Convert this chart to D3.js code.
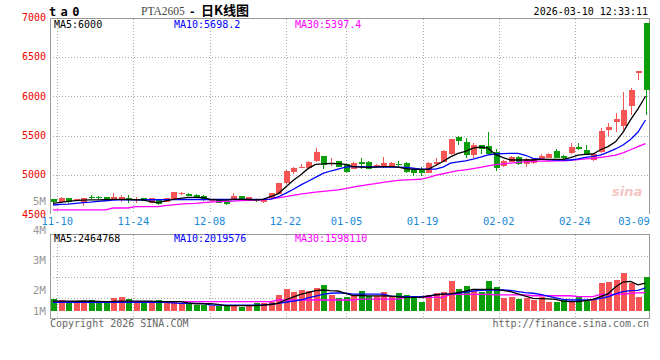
<!DOCTYPE html>
<html>
<head>
<meta charset="utf-8">
<script src="https://cdn.jsdelivr.net/npm/d3@7"></script>
<style>
  body { margin: 0; background: #fff; }
  svg { display: block; }
  text { font-family: "DejaVu Sans Mono", monospace; font-size: 10px; }
</style>
</head>
<body>
<svg id="chart" width="660" height="360"></svg>
<script>
// trading days shown on the chart
const dates = ["11-07",
  "11-10","11-11","11-12","11-13","11-14","11-17","11-18","11-19","11-20","11-21",
  "11-24","11-25","11-26","11-27","11-28","12-01","12-02","12-03","12-04","12-05",
  "12-08","12-09","12-10","12-11","12-12","12-15","12-16","12-17","12-18","12-19",
  "12-22","12-23","12-24","12-25","12-26","12-29","12-30","12-31",
  "01-05","01-06","01-07","01-08","01-09","01-12","01-13","01-14","01-15","01-16",
  "01-19","01-20","01-21","01-22","01-23","01-26","01-27","01-28","01-29","01-30",
  "02-02","02-03","02-04","02-05","02-06","02-09","02-10","02-11","02-12","02-13",
  "02-24","02-25","02-26","02-27","03-02","03-03","03-04","03-05","03-06","03-09","03-10"];

const opens = [4690,4650,4708,4682,4660,4722,4722,4720,4690,4690,
  4711,4682,4703,4648,4694,4656,4690,4758,4762,4749,
  4732,4665,4682,4665,4690,4732,4677,4690,4652,4703,
  4758,4894,5041,5090,5084,5181,5240,5135,5177,5135,
  5075,5168,5164,5105,5105,5105,5145,5155,5062,5062,
  5028,5135,5168,5265,5485,5422,5253,5380,5371,5295,
  5113,5168,5223,5139,5150,5198,5219,5308,5240,5282,
  5359,5317,5190,5295,5570,5672,5625,5880,6290,6934];
const highs = [4695,4718,4712,4695,4712,4749,4732,4725,4770,4749,
  4749,4724,4708,4708,4700,4712,4785,4780,4770,4760,
  4740,4695,4686,4668,4766,4737,4725,4700,4695,4772,
  4900,5060,5100,5135,5182,5338,5245,5210,5180,5138,
  5160,5220,5175,5140,5230,5170,5180,5160,5080,5100,
  5160,5210,5315,5460,5490,5465,5400,5385,5540,5330,
  5190,5240,5240,5215,5215,5265,5280,5330,5250,5410,
  5410,5380,5270,5590,5665,5790,6057,6100,6325,6934];
const lows = [4648,4645,4648,4678,4600,4695,4700,4675,4685,4660,
  4639,4639,4665,4645,4620,4650,4685,4745,4730,4718,
  4670,4660,4645,4618,4685,4686,4674,4660,4648,4700,
  4755,4890,5010,5085,5080,5160,5072,5110,5100,5020,
  5070,5075,5070,5090,5090,5095,5100,5030,4990,4990,
  5020,5110,5160,5250,5380,5211,5211,5270,5260,5055,
  5100,5160,5120,5100,5140,5190,5210,5210,5200,5270,
  5315,5260,5180,5283,5490,5550,5570,5765,6206,5761];
const closes = [4652,4712,4652,4690,4708,4712,4712,4677,4724,4724,
  4682,4694,4669,4703,4627,4711,4779,4770,4737,4724,
  4677,4682,4648,4627,4737,4690,4720,4665,4690,4766,
  4893,5054,5092,5105,5168,5288,5126,5155,5105,5041,
  5155,5139,5079,5126,5155,5155,5130,5041,5020,5030,
  5155,5168,5308,5456,5435,5253,5380,5325,5266,5084,
  5177,5232,5139,5198,5200,5240,5266,5219,5215,5359,
  5325,5266,5266,5562,5613,5706,5825,6079,6320,6080];

// moving averages as drawn on the price panel
const ma5 = [4640,4652,4665,4673,4680,4682,4682,4686,4690,4690,
  4688,4685,4682,4660,4648,4670,4690,4703,4716,4716,
  4712,4690,4682,4680,4690,4690,4688,4684,4690,4724,
  4760,4845,4930,5000,5080,5135,5140,5148,5145,5135,
  5105,5100,5097,5100,5105,5105,5100,5080,5071,5071,
  5071,5120,5170,5230,5275,5300,5340,5355,5340,5260,
  5220,5190,5190,5190,5190,5198,5198,5198,5198,5220,
  5253,5260,5266,5320,5360,5420,5540,5700,5840,6000];
const ma10 = [4618,4627,4630,4640,4648,4655,4665,4672,4680,4682,
  4682,4684,4684,4685,4685,4686,4686,4688,4688,4688,
  4688,4688,4688,4688,4688,4690,4690,4690,4690,4694,
  4720,4765,4815,4870,4920,4970,5020,5050,5075,5100,
  5105,5105,5103,5102,5101,5100,5100,5095,5085,5075,
  5075,5075,5100,5150,5165,5180,5200,5225,5255,5266,
  5270,5275,5275,5250,5211,5200,5195,5190,5190,5190,
  5205,5224,5235,5253,5290,5330,5380,5450,5545,5698.2];
const ma30 = [4555,4555,4555,4555,4555,4555,4555,4555,4580,4580,
  4580,4597,4597,4597,4597,4610,4620,4628,4635,4640,
  4648,4655,4660,4663,4668,4673,4676,4680,4685,4694,
  4710,4725,4740,4755,4770,4782,4792,4800,4810,4825,
  4845,4862,4878,4890,4905,4918,4930,4937,4940,4945,
  4965,4995,5015,5035,5055,5065,5080,5095,5115,5130,
  5140,5150,5160,5168,5172,5175,5177,5178,5180,5185,
  5195,5205,5211,5222,5235,5253,5280,5320,5360,5397.4];

// volume, millions of lots
const volumes = [1.04,0.95,0.80,0.71,0.86,0.95,0.66,0.66,1.13,1.22,
  1.04,0.80,0.71,0.80,0.95,0.86,0.86,0.60,0.71,0.51,
  0.51,0.42,0.42,0.42,0.51,0.36,0.42,0.66,0.66,0.80,
  1.40,1.93,1.69,1.84,1.75,2.02,2.28,1.40,1.10,1.19,
  1.31,1.75,1.31,1.31,1.69,1.19,1.60,1.40,1.19,0.80,
  1.40,1.60,1.69,2.64,1.93,2.20,1.75,1.69,2.64,2.13,
  1.16,1.25,1.04,1.16,0.95,1.19,0.80,0.80,0.95,0.80,
  1.25,0.85,1.00,2.43,2.55,2.73,3.38,2.49,1.25,3.02];
const volMa5 = [0.86,0.85,0.85,0.84,0.86,0.84,0.82,0.80,0.82,0.86,
  0.86,0.86,0.86,0.86,0.80,0.80,0.80,0.80,0.70,0.62,
  0.62,0.62,0.56,0.45,0.45,0.45,0.45,0.45,0.50,0.55,
  0.66,0.95,1.20,1.45,1.60,1.78,1.84,1.78,1.75,1.55,
  1.35,1.35,1.31,1.31,1.31,1.30,1.25,1.19,1.19,1.19,
  1.30,1.40,1.48,1.50,1.60,1.75,1.90,1.90,1.90,1.90,
  1.80,1.69,1.50,1.30,1.10,1.07,1.05,1.00,0.85,0.80,
  0.80,0.90,1.00,1.25,1.50,2.10,2.55,2.60,2.30,2.46];
const volMa10 = [0.75,0.75,0.75,0.75,0.75,0.75,0.75,0.75,0.75,0.75,
  0.75,0.75,0.75,0.75,0.75,0.75,0.70,0.66,0.66,0.66,
  0.66,0.50,0.50,0.50,0.50,0.50,0.50,0.50,0.50,0.58,
  0.66,0.75,0.85,0.95,1.15,1.30,1.45,1.55,1.58,1.55,
  1.48,1.48,1.48,1.48,1.48,1.30,1.27,1.24,1.24,1.24,
  1.30,1.40,1.48,1.50,1.55,1.65,1.75,1.80,1.84,1.84,
  1.84,1.80,1.70,1.60,1.55,1.45,1.30,1.15,1.00,0.95,
  0.95,0.95,0.98,1.10,1.24,1.50,1.70,1.78,1.80,2.02];
const volMa30 = [0.80,0.80,0.80,0.80,0.80,0.80,0.80,0.80,0.80,0.80,
  0.80,0.80,0.80,0.80,0.80,0.80,0.80,0.80,0.80,0.80,
  0.80,0.80,0.80,0.80,0.80,0.80,0.80,0.80,0.80,0.80,
  0.95,0.95,0.95,0.95,0.95,0.95,0.95,0.95,0.95,0.95,
  0.95,1.03,1.03,1.03,1.03,1.03,1.03,1.19,1.19,1.19,
  1.19,1.19,1.19,1.45,1.45,1.45,1.45,1.45,1.45,1.40,
  1.40,1.40,1.40,1.40,1.33,1.33,1.33,1.33,1.33,1.33,
  1.25,1.25,1.25,1.45,1.45,1.45,1.45,1.55,1.58,1.60];

// axis labels
const priceTicks = [7000, 6500, 6000, 5500, 5000, 4500];
const gridPrices = [6500, 6000, 5500, 5000];
const labelDates = ["11-10","11-24","12-08","12-22","01-05","01-19","02-02","02-24","03-09"];
const volTickValues = [5, 4, 3, 2, 1];

const RED = "#f65555", GREEN = "#0a9f0a", GRID = "#aaa", FRAME = "#999";

let svg = d3.select("#chart");
let left = 50, right = 649;
let mainTop = 18.5, mainBottom = 214;
let volTop = 234.5, volBottom = 318.5;

let x = d3.scalePoint().domain(dates).range([53, 645.5]);
let xGrid = d3.scalePoint().domain(dates).range([49.7, 650.9]);
let y = d3.scaleLinear().domain([4500, 7000]).range([214.3, 17.5]);
let yVol = d3.scaleLinear().domain([0, 6.8]).range([310.7, 234.2]);
let yVolLabel = d3.scaleLinear().domain([2, 5]).range([290, 200.7]);

let idx = d3.range(dates.length);

// ---------- header ----------
svg.append("text")
    .attr("x", 49).attr("y", 16)
    .style("font-size", "12px").style("font-weight", "bold")
    .style("letter-spacing", "4.4px")
    .text("ta0");

let title = svg.append("text").attr("y", 14.5);
title.append("tspan").attr("x", 141).attr("fill", "#444")
    .style("font-family", "'Liberation Serif', serif").style("font-size", "11.5px")
    .text("PTA2605");
title.append("tspan").attr("x", 189).style("font-size", "11px").style("font-weight", "bold").text("-");
title.append("tspan").attr("x", 201)
    .style("font-family", "'Noto Sans CJK SC', sans-serif")
    .style("font-size", "13px").style("font-weight", "bold")
    .text("日K线图");

svg.append("text")
    .attr("x", 648).attr("y", 15)
    .attr("text-anchor", "end")
    .text("2026-03-10 12:33:11");

// ---------- grids ----------
let grid = svg.append("g")
    .attr("stroke", GRID)
    .attr("stroke-dasharray", "1,2")
    .attr("shape-rendering", "crispEdges");

grid.selectAll(".hgrid")
    .data(gridPrices)
    .enter().append("line")
    .attr("x1", left).attr("x2", right)
    .attr("y1", d => Math.round(y(d)) + 0.5)
    .attr("y2", d => Math.round(y(d)) + 0.5);

grid.selectAll(".vgrid")
    .data(labelDates.slice(0, -1))
    .enter().append("line")
    .attr("x1", d => Math.round(xGrid(d)) + 0.5)
    .attr("x2", d => Math.round(xGrid(d)) + 0.5)
    .attr("y1", mainTop).attr("y2", mainBottom);

grid.selectAll(".vgrid2")
    .data(labelDates.slice(0, -1))
    .enter().append("line")
    .attr("x1", d => Math.round(xGrid(d)) + 0.5)
    .attr("x2", d => Math.round(xGrid(d)) + 0.5)
    .attr("y1", volTop).attr("y2", volBottom);

grid.selectAll(".volgrid")
    .data([1, 2, 3])
    .enter().append("line")
    .attr("x1", left).attr("x2", right)
    .attr("y1", d => Math.round(volTop + (volBottom - volTop) * d / 4) + 0.5)
    .attr("y2", d => Math.round(volTop + (volBottom - volTop) * d / 4) + 0.5);

// watermark
svg.append("text")
    .attr("x", 612).attr("y", 196)
    .attr("fill", "#f5c4c4")
    .style("font-family", "'DejaVu Sans', sans-serif")
    .style("font-size", "13px").style("font-style", "italic").style("font-weight", "bold")
    .text("sina");

// ---------- frames ----------
svg.append("path")
    .attr("d", `M${left + 0.5},${mainBottom}V${mainTop}H${right + 0.5}V${mainBottom}`)
    .attr("fill", "none").attr("stroke", FRAME)
    .attr("shape-rendering", "crispEdges");
svg.append("rect")
    .attr("x", left + 0.5).attr("y", volTop)
    .attr("width", right - left).attr("height", volBottom - volTop)
    .attr("fill", "none").attr("stroke", FRAME)
    .attr("shape-rendering", "crispEdges");

// ---------- candles ----------
let candles = svg.append("g").attr("shape-rendering", "crispEdges");
let isUp = i => closes[i] >= opens[i];

candles.selectAll(".wick")
    .data(idx)
    .enter().append("line")
    .attr("x1", i => Math.round(x(dates[i])) + 0.5)
    .attr("x2", i => Math.round(x(dates[i])) + 0.5)
    .attr("y1", i => y(highs[i]))
    .attr("y2", i => y(lows[i]))
    .attr("stroke", i => isUp(i) ? RED : GREEN);

candles.selectAll(".body")
    .data(idx)
    .enter().append("rect")
    .attr("x", i => Math.round(x(dates[i])) - 2.5)
    .attr("width", 6)
    .attr("y", i => y(Math.max(opens[i], closes[i])))
    .attr("height", i => Math.max(1, Math.abs(y(opens[i]) - y(closes[i]))))
    .attr("fill", i => isUp(i) ? RED : GREEN);

// ---------- MA lines ----------
function maLine(values, scale) {
    return d3.line()
        .x((d, i) => x(dates[i]))
        .y(d => scale(d))(values);
}

[[ma30, "#f0f"], [ma10, "#00f"], [ma5, "#000"]].forEach(([vals, color]) => {
    svg.append("path")
        .attr("d", maLine(vals, y))
        .attr("fill", "none").attr("stroke", color).attr("stroke-width", 1.3);
});

// ---------- volume ----------
let vol = svg.append("g").attr("shape-rendering", "crispEdges");
vol.selectAll(".bar")
    .data(idx)
    .enter().append("rect")
    .attr("x", i => Math.round(x(dates[i])) - 2.5)
    .attr("width", 6)
    .attr("y", i => yVol(volumes[i]))
    .attr("height", i => yVol(0) - yVol(volumes[i]))
    .attr("fill", i => isUp(i) ? RED : GREEN);

[[volMa30, "#f0f"], [volMa10, "#00f"], [volMa5, "#000"]].forEach(([vals, color]) => {
    svg.append("path")
        .attr("d", maLine(vals, yVol))
        .attr("fill", "none").attr("stroke", color).attr("stroke-width", 1.3);
});

// ---------- axis labels ----------
svg.selectAll(".ptick")
    .data(priceTicks)
    .enter().append("text")
    .attr("x", 46).attr("y", d => y(d) + 3.5)
    .attr("text-anchor", "end")
    .attr("fill", "#e00")
    .text(d => d);

svg.selectAll(".vtick")
    .data(volTickValues)
    .enter().append("text")
    .attr("x", 46).attr("y", d => Math.min(yVolLabel(d), 310.7) + 3.8)
    .attr("text-anchor", "end")
    .attr("fill", "#999")
    .style("font-size", "11px")
    .text(d => d + "M");

svg.selectAll(".xtick")
    .data(labelDates)
    .enter().append("text")
    .attr("x", d => Math.min(xGrid(d), 649 - 15))
    .attr("y", 225)
    .attr("text-anchor", "middle")
    .attr("fill", "#1a8ad8")
    .style("font-size", "10.5px")
    .text(d => d);

// ---------- legends ----------
let legends = [
    ["MA5:6000", "#000", 54, 27.5],
    ["MA10:5698.2", "#00f", 174, 27.5],
    ["MA30:5397.4", "#f0f", 295, 27.5],
    ["MA5:2464768", "#000", 54, 241.5],
    ["MA10:2019576", "#00f", 174, 241.5],
    ["MA30:1598110", "#f0f", 295, 241.5],
];
legends.forEach(([t, c, lx, ly]) => {
    svg.append("text").attr("x", lx).attr("y", ly).attr("fill", c).text(t);
});

// footer
svg.append("text")
    .attr("x", 50).attr("y", 327)
    .attr("fill", "#666")
    .text("Copyright 2026 SINA.COM");
svg.append("text")
    .attr("x", 649).attr("y", 327)
    .attr("text-anchor", "end")
    .attr("fill", "#666")
    .text("http://finance.sina.com.cn");
</script>
</body>
</html>
